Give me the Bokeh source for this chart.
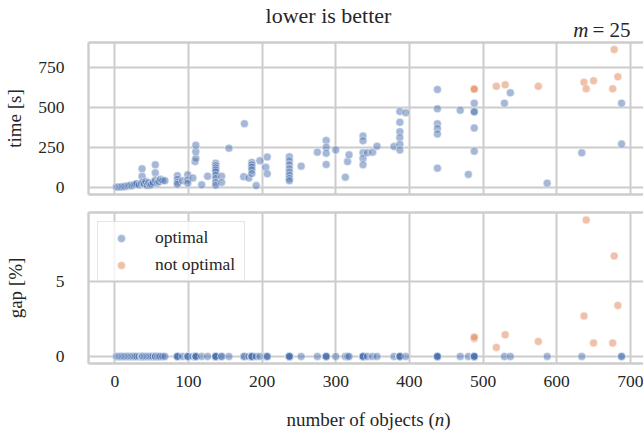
from bokeh.plotting import figure
from bokeh.layouts import column
from bokeh.models import (ColumnDataSource, Range1d, FixedTicker, LinearAxis,
                          Legend, LegendItem)
from bokeh.core.properties import value
from bokeh.embed import file_html
from bokeh.resources import INLINE

# Instances solved to optimality: number of objects and solve time [s]
opt_n = [2, 4, 6, 8, 10, 12, 14, 16, 18, 20, 22, 24, 26, 28, 30, 33, 36, 37, 37, 38,
         40, 42, 44, 46, 48, 50, 52, 55, 55, 55, 58, 60, 62, 65, 68,
         85, 85, 85, 85, 92, 99, 99, 99,
         106, 109, 110, 110, 110, 118, 126,
         137, 137, 137, 137, 137, 137, 137, 137, 137,
         145, 145, 155, 175, 176, 182,
         186, 186, 186, 186, 186, 192, 197, 205, 207, 207,
         237, 237, 237, 237, 237, 237, 237, 237, 253, 275,
         287, 287, 287, 287, 300, 313, 316, 318,
         337, 337, 337, 337, 337, 343, 350, 356, 379,
         387, 387, 387, 387, 387, 387, 395,
         438, 438, 438, 438, 438, 438, 469, 480,
         488, 488, 488, 488, 488, 529, 537, 587, 634, 688, 688]
opt_time = [1, 1, 2, 2, 3, 4, 5, 6, 8, 10, 12, 9, 15, 18, 22, 14, 25, 68, 115, 30,
            20, 35, 10, 28, 12, 18, 30, 90, 140, 45, 25, 35, 50, 42, 40,
            72, 50, 30, 18, 40, 78, 45, 25,
            58, 160, 180, 222, 262, 15, 68,
            150, 135, 120, 108, 95, 75, 55, 30, 12,
            68, 30, 244, 66, 397, 57,
            155, 140, 125, 108, 85, 10, 166, 124, 188, 84,
            190, 165, 140, 115, 95, 75, 55, 40, 131, 219,
            292, 250, 212, 142, 233, 62, 160, 202,
            320, 290, 215, 180, 140, 215, 219, 256, 254,
            473, 406, 347, 310, 268, 232, 465,
            610, 490, 396, 365, 333, 119, 480, 80,
            525, 475, 470, 370, 225, 525, 590, 25, 215, 525, 270]
opt_gap = [0.0] * len(opt_n)

# Instances stopped at the time limit: number of objects, time [s], remaining gap [%]
nopt_n = [488, 488, 518, 530, 575, 637, 640, 650, 676, 678, 683]
nopt_time = [615, 612, 630, 640, 630, 655, 615, 665, 615, 860, 690]
nopt_gap = [1.2, 1.3, 0.6, 1.45, 1.0, 2.7, 9.1, 0.9, 0.9, 6.7, 3.4]

x_ticks = [0, 100, 200, 300, 400, 500, 600, 700]
time_ticks = [0, 250, 500, 750]
gap_ticks = [0, 5]

BLUE = "#4c72b0"
ORANGE = "#dd8452"
GRID = "#cccccc"
TEXT = "#262626"
FONT = "Liberation Serif"
W = 643
LEFT = 88

src_opt = ColumnDataSource(dict(n=opt_n, time=opt_time, gap=opt_gap))
src_nopt = ColumnDataSource(dict(n=nopt_n, time=nopt_time, gap=nopt_gap))

x_range = Range1d(-35.7, 717.8)


def spine_axis():
    return LinearAxis(ticker=FixedTicker(ticks=[]), axis_line_color=GRID,
                      axis_line_width=2.4, major_tick_line_color=None,
                      minor_tick_line_color=None, major_tick_out=0, minor_tick_out=0,
                      major_label_standoff=0, axis_label_standoff=0)


def style(p, yticks, ylabel, label_standoff, show_x_labels):
    p.outline_line_color = None
    p.background_fill_color = "white"
    p.border_fill_color = "white"

    p.xaxis.ticker = FixedTicker(ticks=x_ticks if show_x_labels else [])
    p.yaxis.ticker = FixedTicker(ticks=yticks)
    p.xgrid.ticker = FixedTicker(ticks=x_ticks)
    p.ygrid.ticker = FixedTicker(ticks=yticks)
    for g in (p.xgrid, p.ygrid):
        g.grid_line_color = GRID
        g.grid_line_width = 2

    for ax in (p.xaxis, p.yaxis):
        ax.axis_line_color = GRID
        ax.axis_line_width = 2.4
        ax.major_tick_line_color = None
        ax.minor_tick_line_color = None
        ax.major_tick_out = 0
        ax.major_tick_in = 0
        ax.minor_tick_out = 0
        ax.major_label_text_font = FONT
        ax.major_label_text_font_size = "17.5px"
        ax.major_label_text_color = TEXT

    p.yaxis.major_label_standoff = 24
    p.yaxis.axis_label = ylabel
    p.yaxis.axis_label_text_font = FONT
    p.yaxis.axis_label_text_font_size = "19px"
    p.yaxis.axis_label_text_font_style = "normal"
    p.yaxis.axis_label_text_color = TEXT
    p.yaxis.axis_label_standoff = label_standoff

    p.xaxis.major_label_standoff = 12 if show_x_labels else 0

    p.add_layout(spine_axis(), "above")


def points(p, ycol):
    r1 = p.scatter("n", ycol, source=src_opt, size=8, fill_color=BLUE, fill_alpha=0.5,
                   line_color="white", line_alpha=0.6, line_width=0.8)
    r2 = p.scatter("n", ycol, source=src_nopt, size=8, fill_color=ORANGE, fill_alpha=0.5,
                   line_color="white", line_alpha=0.6, line_width=0.8)
    return r1, r2


def text_strip(height):
    # blank strip whose coordinates are page pixels (x from the left, y up from its bottom)
    s = figure(width=W, height=height, x_range=Range1d(LEFT, W), y_range=Range1d(0, height),
               output_backend="svg", toolbar_location=None,
               x_axis_location=None, y_axis_location=None,
               min_border_left=LEFT, min_border_right=0,
               min_border_top=0, min_border_bottom=0)
    s.outline_line_color = None
    s.xgrid.visible = False
    s.ygrid.visible = False
    s.border_fill_color = "white"
    s.background_fill_color = "white"
    return s


def put(s, x, y, txt, size, align="left", style="normal"):
    s.text(x=[x], y=[y], text=[txt], text_font=value(FONT), text_font_size=f"{size}px",
           text_font_style=style, text_color=TEXT, text_align=align,
           text_baseline="middle")


# --- header: title and parameter ---
head = text_strip(40)
put(head, 328, 25, "lower is better", 22, align="center")
put(head, 588, 11, "m", 21, align="right", style="italic")
put(head, 592, 11, "= 25", 21)

# --- solve time panel ---
p1 = figure(width=W, height=160, x_range=x_range, y_range=Range1d(-45.6, 904),
            output_backend="svg", toolbar_location=None,
            min_border_left=LEFT, min_border_right=0, min_border_top=2, min_border_bottom=6)
style(p1, time_ticks, "time [s]", 10, False)
points(p1, "time")

# --- optimality gap panel ---
p2 = figure(width=W, height=200, x_range=x_range, y_range=Range1d(-0.47, 9.6),
            output_backend="svg", toolbar_location=None,
            min_border_left=LEFT, min_border_right=0, min_border_top=12, min_border_bottom=37)
style(p2, gap_ticks, "gap [%]", 27, True)
r_opt, r_nopt = points(p2, "gap")

legend = Legend(items=[LegendItem(label="optimal", renderers=[r_opt]),
                       LegendItem(label="not optimal", renderers=[r_nopt])],
                location="top_left", margin=9, padding=5, spacing=6,
                glyph_width=36, glyph_height=20, label_height=20, label_width=84,
                label_standoff=16, label_text_font=FONT, label_text_font_size="17.5px",
                label_text_color=TEXT, border_line_color=GRID, border_line_width=1.5,
                background_fill_color="white", background_fill_alpha=0.8)
p2.add_layout(legend)

# --- footer: x-axis title with an italic variable name ---
foot = text_strip(34)
xl_size = 19
xl_x = 286
xl_y = 15
put(foot, xl_x, xl_y, "number of objects (", xl_size)
put(foot, xl_x + 7.804 * xl_size, xl_y, "n", xl_size, style="italic")
put(foot, xl_x + 8.304 * xl_size, xl_y, ")", xl_size)

layout = column(head, p1, p2, foot, spacing=0)
open("out.html", "w").write(file_html(layout, INLINE))
